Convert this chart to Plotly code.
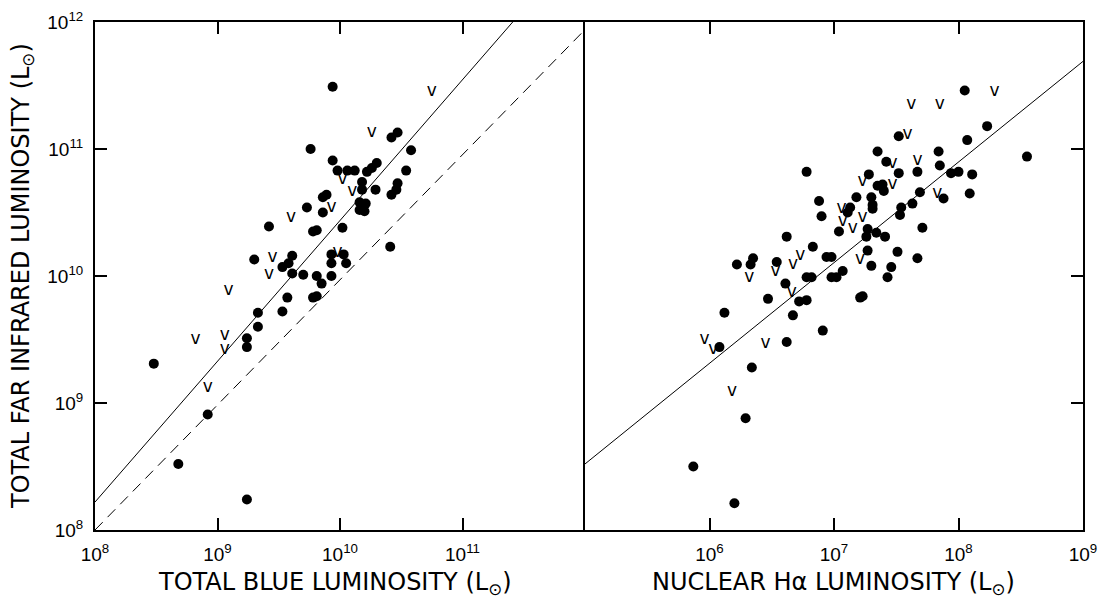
import numpy as np
import plotly.graph_objects as go

# ---------------- data (log10 of luminosities) ----------------
# Left panel: total blue luminosity vs total far-infrared luminosity (detections)
blue_det_logLB = [8.48, 8.68, 8.92, 9.24, 9.24, 9.24, 9.33, 9.33, 9.53, 9.57,
                  9.42, 9.30, 9.61, 9.58, 9.53, 9.61, 9.70, 9.81, 9.85, 9.93,
                  9.78, 9.81, 9.76, 9.94, 9.98, 10.06, 10.12, 9.86, 9.89, 9.73,
                  9.86, 9.78, 9.81, 10.02, 9.93, 10.03, 9.93, 10.05, 9.94, 10.42,
                  10.47, 10.58, 10.22, 10.26, 10.30, 10.54, 10.18, 10.18, 10.29, 10.47,
                  10.46, 10.42, 10.16, 10.21, 10.16, 10.20, 10.41]
blue_det_logLFIR = [9.31, 8.52, 8.91, 8.24, 9.51, 9.44, 9.71, 9.60, 9.72, 9.83,
                    10.39, 10.13, 10.16, 10.10, 10.07, 10.02, 10.01, 10.00, 9.94, 10.00,
                    9.83, 9.84, 11.00, 10.91, 10.83, 10.83, 10.83, 10.62, 10.64, 10.54,
                    10.50, 10.35, 10.36, 10.38, 10.17, 10.17, 10.10, 10.10, 11.49, 11.09,
                    11.13, 10.99, 10.82, 10.85, 10.89, 10.83, 10.74, 10.68, 10.68, 10.73,
                    10.68, 10.64, 10.58, 10.57, 10.52, 10.51, 10.23]
# Left panel: upper limits ("v")
blue_lim_logLB = [8.82, 9.06, 9.06, 8.92, 9.09, 9.42, 9.45, 9.60, 10.02, 9.93,
                  9.98, 10.10, 10.26, 10.75]
blue_lim_logLFIR = [9.50, 9.53, 9.42, 9.12, 9.88, 10.01, 10.14, 10.46, 10.76, 10.54,
                    10.18, 10.66, 11.13, 11.45]

# Right panel: nuclear H-alpha luminosity vs total far-infrared luminosity (detections)
ha_det_logLHa = [6.78, 6.88, 6.90, 7.04, 6.62, 6.83, 6.94, 6.98, 6.35, 6.33,
                 6.22, 6.54, 6.78, 6.82, 6.98, 7.02, 6.61, 6.47, 6.72, 6.78,
                 6.12, 6.67, 6.91, 6.62, 6.08, 6.34, 6.29, 5.87, 6.20, 7.28,
                 7.35, 7.35, 7.18, 7.30, 7.31, 7.31, 7.13, 7.11, 7.27, 7.26,
                 7.34, 7.27, 7.30, 7.07, 7.21, 7.23, 8.05, 8.23, 8.07, 7.52,
                 7.84, 7.42, 7.52, 7.67, 7.85, 7.94, 8.00, 8.11, 7.39, 7.40,
                 7.69, 8.09, 7.88, 7.63, 7.54, 7.53, 7.71, 7.41, 7.51, 7.67,
                 7.46, 7.43, 8.55]
ha_det_logLFIR = [10.82, 10.59, 10.47, 10.35, 10.31, 10.23, 10.15, 10.15, 10.14, 10.09,
                  10.09, 10.11, 9.99, 9.99, 9.99, 9.99, 9.94, 9.82, 9.80, 9.81,
                  9.71, 9.69, 9.57, 9.48, 9.44, 9.28, 8.88, 8.50, 8.21, 10.80,
                  10.98, 10.71, 10.62, 10.62, 10.56, 10.53, 10.54, 10.50, 10.37, 10.31,
                  10.34, 10.20, 10.08, 10.04, 9.83, 9.84, 11.46, 11.18, 11.07, 11.10,
                  10.98, 10.90, 10.81, 10.82, 10.87, 10.81, 10.82, 10.80, 10.72, 10.67,
                  10.66, 10.65, 10.61, 10.57, 10.54, 10.48, 10.38, 10.31, 10.19, 10.14,
                  10.07, 9.99, 10.94]
# Right panel: upper limits ("v")
ha_lim_logLHa = [5.96, 6.03, 6.45, 6.18, 6.32, 6.53, 6.66, 6.73, 6.67, 7.06,
                 7.07, 7.15, 7.23, 7.23, 7.21, 7.59, 7.67, 7.47, 7.47, 7.83,
                 7.85, 8.29, 7.62]
ha_lim_logLFIR = [9.50, 9.42, 9.47, 9.09, 9.99, 10.03, 9.87, 10.16, 10.09, 10.53,
                  10.43, 10.37, 10.46, 10.74, 10.13, 11.11, 10.91, 10.88, 10.72, 10.65,
                  11.35, 11.45, 11.35, 9.61]

# Relations drawn in the figure (end points, log10)
fit_blue_logx = [8.0, 11.41]
fit_blue_logy = [8.22, 12.0]
equal_logx = [8.0, 12.0]
equal_logy = [8.0, 11.94]
fit_ha_logx = [5.0, 9.0]
fit_ha_logy = [8.52, 11.69]

# Tick labels
left_x_tickvals = [1e8, 1e9, 1e10, 1e11, 1e12]
left_x_ticktext = ["10<sup>8</sup>", "10<sup>9</sup>", "10<sup>10</sup>", "10<sup>11</sup>", ""]
right_x_tickvals = [1e5, 1e6, 1e7, 1e8, 1e9]
right_x_ticktext = ["", "10<sup>6</sup>", "10<sup>7</sup>", "10<sup>8</sup>", "10<sup>9</sup>"]
y_tickvals = [1e8, 1e9, 1e10, 1e11, 1e12]
y_ticktext = ["10<sup>8</sup>", "10<sup>9</sup>", "10<sup>10</sup>", "10<sup>11</sup>", "10<sup>12</sup>"]

p = lambda a: 10 ** np.array(a)

FONT = "DejaVu Sans"
TICKFONT = "Liberation Sans"
fig = go.Figure()

dot = dict(color="black", size=10, line=dict(width=0))
vfont = dict(family=FONT, size=17, color="black")

fig.add_trace(go.Scatter(x=p(fit_blue_logx), y=p(fit_blue_logy), mode="lines",
                         line=dict(color="black", width=1), xaxis="x", yaxis="y", hoverinfo="skip"))
fig.add_trace(go.Scatter(x=p(equal_logx), y=p(equal_logy), mode="lines",
                         line=dict(color="black", width=1, dash="11px,7px"), xaxis="x", yaxis="y",
                         hoverinfo="skip"))
fig.add_trace(go.Scatter(x=p(blue_det_logLB), y=p(blue_det_logLFIR), mode="markers", marker=dot,
                         xaxis="x", yaxis="y"))
fig.add_trace(go.Scatter(x=p(blue_lim_logLB), y=p(blue_lim_logLFIR), mode="text",
                         text=["v"] * len(blue_lim_logLB), textfont=vfont, xaxis="x", yaxis="y"))

fig.add_trace(go.Scatter(x=p(fit_ha_logx), y=p(fit_ha_logy), mode="lines",
                         line=dict(color="black", width=1), xaxis="x2", yaxis="y2", hoverinfo="skip"))
fig.add_trace(go.Scatter(x=p(ha_det_logLHa), y=p(ha_det_logLFIR), mode="markers", marker=dot,
                         xaxis="x2", yaxis="y2"))
fig.add_trace(go.Scatter(x=p(ha_lim_logLHa), y=p(ha_lim_logLFIR), mode="text",
                         text=["v"] * len(ha_lim_logLHa), textfont=vfont, xaxis="x2", yaxis="y2"))

tickfont = dict(family=TICKFONT, size=19, color="black")
axcommon = dict(type="log", showgrid=False, zeroline=False, showline=True, linecolor="black",
                linewidth=2, ticks="inside", ticklen=12, tickwidth=1.5, tickcolor="black",
                tickfont=tickfont, automargin=False)

split = 490 / 988
fig.update_layout(
    width=1100, height=605,
    margin=dict(l=95, r=17, t=22, b=75, autoexpand=False),
    paper_bgcolor="white", plot_bgcolor="white",
    showlegend=False,
    xaxis=dict(axcommon, domain=[0, split], range=[8, 12], anchor="y", mirror="ticks",
               tickvals=left_x_tickvals, ticktext=left_x_ticktext, ticklabelstandoff=6),
    yaxis=dict(axcommon, range=[8, 12], anchor="x", side="left", mirror=False,
               tickvals=y_tickvals, ticktext=y_ticktext, ticklabelstandoff=6),
    xaxis2=dict(axcommon, domain=[split, 1], range=[5, 9], anchor="y2", mirror="ticks",
                tickvals=right_x_tickvals, ticktext=right_x_ticktext, ticklabelstandoff=6),
    yaxis2=dict(axcommon, range=[8, 12], anchor="x2", side="right", mirror=True,
                tickvals=[1e9, 1e10, 1e11], showticklabels=False),
)

titlefont = dict(family=FONT, size=24, color="black")
fig.add_annotation(text="TOTAL BLUE LUMINOSITY (L<sub>⊙</sub>)", xref="paper", yref="paper",
                   x=(335 - 95) / 988, y=(530 - 583) / 508, showarrow=False, font=titlefont,
                   xanchor="center", yanchor="middle")
fig.add_annotation(text="NUCLEAR Hα LUMINOSITY (L<sub>⊙</sub>)", xref="paper", yref="paper",
                   x=(833 - 95) / 988, y=(530 - 583) / 508, showarrow=False, font=titlefont,
                   xanchor="center", yanchor="middle")
fig.add_annotation(text="TOTAL FAR INFRARED LUMINOSITY (L<sub>⊙</sub>)", xref="paper", yref="paper",
                   x=(22 - 95) / 988, y=0.5, showarrow=False, font=titlefont, textangle=-90,
                   xanchor="center", yanchor="middle")

fig.write_html("out.html", config={"displayModeBar": False},
               post_script="document.body.style.margin='0';")
